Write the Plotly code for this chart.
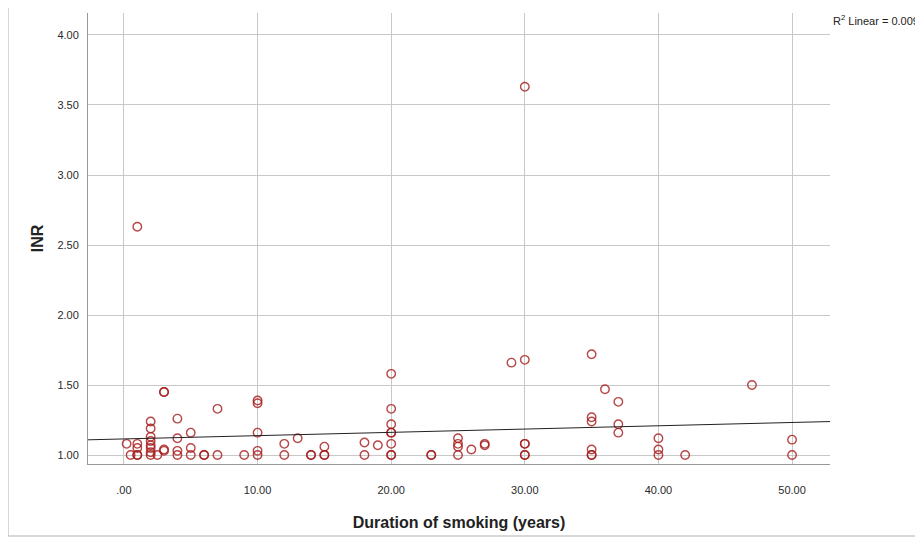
import plotly.graph_objects as go

# Data
duration = [0.2, 0.5, 1, 1, 1, 1, 1, 2, 2, 2, 2, 2, 2, 2, 2, 2.5,
            3, 3, 3, 3, 4, 4, 4, 4, 5, 5, 5, 6, 6, 7, 7, 9,
            10, 10, 10, 10, 10, 12, 12, 13, 14, 14, 15, 15, 15, 18, 18, 19,
            20, 20, 20, 20, 20, 20, 20, 20, 23, 23, 25, 25, 25, 25, 26, 27, 27, 29,
            30, 30, 30, 30, 30, 30, 35, 35, 35, 35, 35, 35, 36, 37, 37, 37,
            40, 40, 40, 42, 47, 50, 50]
inr = [1.08, 1.00, 2.63, 1.08, 1.05, 1.00, 1.00, 1.24, 1.19, 1.13, 1.10, 1.07, 1.05, 1.02, 1.00, 1.00,
       1.45, 1.45, 1.04, 1.03, 1.26, 1.12, 1.03, 1.00, 1.16, 1.05, 1.00, 1.00, 1.00, 1.33, 1.00, 1.00,
       1.39, 1.37, 1.16, 1.03, 1.00, 1.08, 1.00, 1.12, 1.00, 1.00, 1.06, 1.00, 1.00, 1.09, 1.00, 1.07,
       1.58, 1.33, 1.22, 1.16, 1.16, 1.08, 1.00, 1.00, 1.00, 1.00, 1.12, 1.08, 1.06, 1.00, 1.04, 1.08, 1.07, 1.66,
       3.63, 1.68, 1.08, 1.08, 1.00, 1.00, 1.72, 1.27, 1.24, 1.04, 1.00, 1.00, 1.47, 1.38, 1.22, 1.16,
       1.12, 1.04, 1.00, 1.00, 1.50, 1.11, 1.00]

# Fit line
fit_intercept = 1.115
fit_slope = 0.00235
r2_text = "R<sup>2</sup> Linear = 0.009"

x_tickvals = [0, 10, 20, 30, 40, 50]
x_ticktext = [".00", "10.00", "20.00", "30.00", "40.00", "50.00"]
y_tickvals = [1.0, 1.5, 2.0, 2.5, 3.0, 3.5, 4.0]
y_ticktext = ["1.00", "1.50", "2.00", "2.50", "3.00", "3.50", "4.00"]

x_range = [-2.69, 52.84]
y_range = [0.936, 4.157]

fig = go.Figure()
fig.add_trace(go.Scatter(
    x=duration, y=inr, mode="markers",
    marker=dict(symbol="circle-open", size=8.5,
                color="rgba(165,25,25,0.8)",
                line=dict(width=1.4, color="rgba(165,25,25,0.8)")),
    showlegend=False, hoverinfo="x+y"))

fig.add_trace(go.Scatter(
    x=x_range, y=[fit_intercept + fit_slope * v for v in x_range],
    mode="lines", line=dict(color="#222222", width=1),
    showlegend=False, hoverinfo="skip"))

# page has an 8px body margin; figure sized to fit the window
OFF = 8
W, H = 923 - OFF, 540 - OFF
ml, mr, mt, mb = 88 - OFF, 93, 13 - OFF, 76
pw, ph = W - ml - mr, H - mt - mb

def px2paper_x(p):  # p in window pixels
    return (p - OFF - ml) / pw

def px2paper_y(p):
    return (H - mb - (p - OFF)) / ph

fig.add_shape(type="rect", xref="paper", yref="paper",
              x0=px2paper_x(8), x1=px2paper_x(921),
              y0=px2paper_y(536), y1=px2paper_y(6),
              line=dict(color="#b0b0b0", width=1), layer="below")

fig.add_annotation(text=r2_text, xref="paper", yref="paper",
                   x=px2paper_x(831), y=px2paper_y(20),
                   xanchor="left", yanchor="middle", showarrow=False,
                   font=dict(family="Arial, Liberation Sans", size=11, color="#222"))

fig.update_layout(
    width=W, height=H,
    margin=dict(l=ml, r=mr, t=mt, b=mb),
    paper_bgcolor="white", plot_bgcolor="white",
    font=dict(family="Arial, Liberation Sans", color="#333"),
    xaxis=dict(range=x_range, tickvals=x_tickvals, ticktext=x_ticktext,
               showgrid=True, gridcolor="#c8c8c8", gridwidth=1,
               zeroline=False, showline=True, linecolor="#999", linewidth=1,
               ticks="", ticklabelstandoff=16,
               tickfont=dict(size=11, color="#2a2a2a"),
               title=dict(text="<b>Duration of smoking (years)</b>",
                          font=dict(size=16, color="#222"), standoff=21)),
    yaxis=dict(range=y_range, tickvals=y_tickvals, ticktext=y_ticktext,
               showgrid=True, gridcolor="#c8c8c8", gridwidth=1,
               zeroline=False, showline=True, linecolor="#999", linewidth=1,
               ticks="", ticklabelstandoff=6,
               tickfont=dict(size=11, color="#2a2a2a"),
               title=dict(text="<b>INR</b>",
                          font=dict(size=16, color="#222"), standoff=9)),
)

fig.write_html("out.html")
